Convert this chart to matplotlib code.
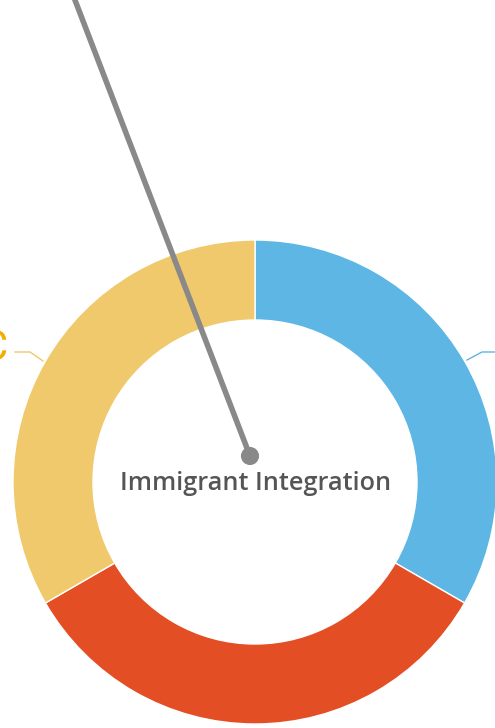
import matplotlib.pyplot as plt
import numpy as np

# segment data
segments = ['Blue', 'Red', 'Yellow']
values = [1, 1, 1]
colors = ['#5EB6E4', '#E34E24', '#EFC96B']
title = 'Immigrant Integration'
needle_angle = 111.0  # degrees, measured counterclockwise from +x

W, H = 495, 728
fig = plt.figure(figsize=(W / 100, H / 100), dpi=100)
ax = fig.add_axes([0, 0, 1, 1])

cx, cy = 255, H - 482
r_out, r_in = 242, 162

ax.pie(values, colors=colors, startangle=90, counterclock=False,
       center=(cx, cy), radius=r_out, frame=True,
       wedgeprops=dict(width=r_out - r_in, edgecolor='white', linewidth=1))
ax.set_xlim(0, W)
ax.set_ylim(0, H)
ax.set_aspect('equal')
ax.axis('off')

# label leader lines (labels themselves fall outside the canvas)
ax.plot([43, 30, 15], [H - 361, H - 352, H - 352], color='#EFC96B', lw=1)
ax.plot([467, 482, 500], [H - 360, H - 352, H - 352], color='#5EB6E4', lw=1)
ax.text(8, H - 349, 'C', color='#F2AD00', fontsize=30, ha='right', va='center',
        family='Roboto')

# needle
nx, ny = 250, H - 456
L = 600
a = np.deg2rad(needle_angle)
ax.plot([nx, nx + L * np.cos(a)], [ny, ny + L * np.sin(a)],
        color='#898989', lw=4, solid_capstyle='butt', zorder=5)
ax.scatter([nx], [ny], s=170, color='#898989', zorder=6, edgecolors='none')

ax.text(cx + 1, H - 490, title, ha='center', va='baseline', fontsize=18.2,
        color='#555555', family='Open Sans', fontweight='semibold', zorder=7)

fig.savefig('out.png', dpi=100)
